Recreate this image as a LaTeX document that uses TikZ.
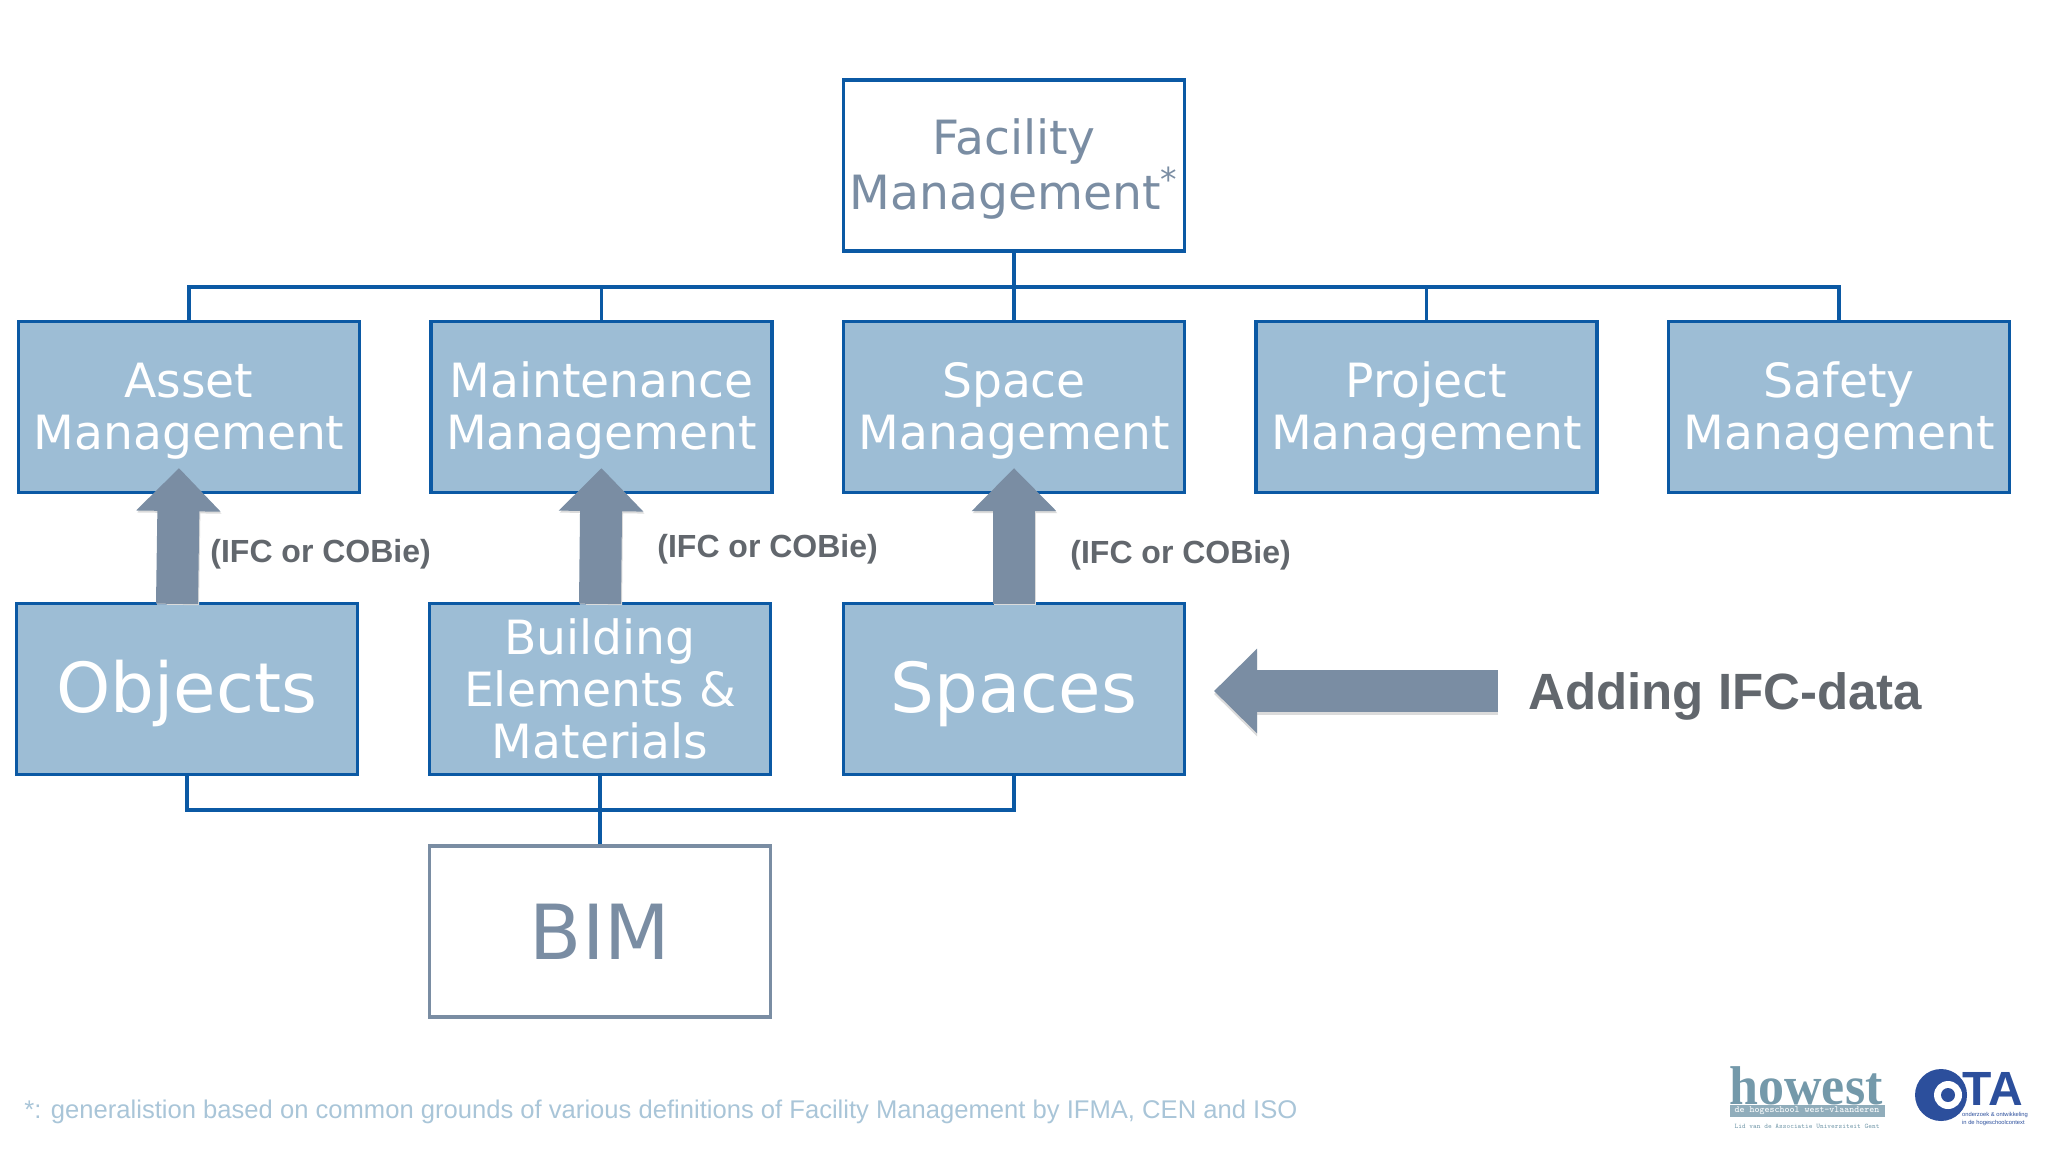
\documentclass[tikz,border=0pt]{standalone}
\usepackage{fontspec}
\setmainfont{DejaVu Sans}
\newfontfamily\arialfont{Liberation Sans}
\newfontfamily\slabfont{Liberation Serif}
\usetikzlibrary{arrows.meta}
\definecolor{boxblue}{HTML}{9DBDD5}
\definecolor{lineblue}{HTML}{0B59A4}
\definecolor{slate}{HTML}{7A8DA3}
\definecolor{labelgrey}{HTML}{62676D}
\definecolor{notecolor}{HTML}{A9C5D8}
\definecolor{howestblue}{HTML}{7499AA}
\definecolor{otablue}{HTML}{2C4F9C}
\newcommand{\lowtwo}{\rule{0pt}{21.5pt}}
\newcommand{\lowbig}{\rule{0pt}{31pt}}
\tikzset{
	filled/.style={draw=lineblue, fill=boxblue, text=white},
	blockarrow/.style={line width=21pt, slate, -{Triangle[length=21.5pt,width=41pt]}},
	arrowshadow/.style={line width=21pt, black!14, -{Triangle[length=21.5pt,width=41pt]}},
	ifclabel/.style={font=\arialfont\bfseries\fontsize{16}{20}\selectfont},
}
\begin{document}
\begin{tikzpicture}[x=0.5pt, y=-0.5pt]
		\useasboundingbox (0,0) rectangle (2048,1152);
		\begin{scope}[every node/.style={rectangle, line width=1.6pt, minimum width=170.5pt, minimum height=85.5pt, inner sep=0pt, align=center, font=\fontsize{23.6}{26}\selectfont}]
			\node[draw=lineblue, text=slate] (FM) at (1014,165.5) {\lowtwo Facility\\Management\textsuperscript{*}};
			
			\node[filled] (AM) at (189,407) {\lowtwo Asset\\Management};
			\node[filled] (MM) at (601.5,407) {\lowtwo Maintenance\\Management};
			\node[filled] (SM) at (1014,407) {\lowtwo Space\\Management};
			\node[filled] (PM) at (1426.5,407) {\lowtwo Project\\Management};
			\node[filled] (SF) at (1839,407) {\lowtwo Safety\\Management};
			
			\node[filled, font=\fontsize{34.5}{40}\selectfont] (O) at (187,689) {\lowbig Objects};
			\node[filled] (B) at (600,689) {Building\\Elements \&\\Materials};
			\node[filled, font=\fontsize{34.5}{40}\selectfont] (S) at (1014,689) {\lowbig Spaces};
			
			\node[draw=slate, text=slate, font=\fontsize{38}{40}\selectfont] (BIM) at (600,931.5) {BIM};
		\end{scope}
		
		\coordinate (T) at (1014,287);
		\coordinate (U) at (600,810);
		\coordinate (AF) at (1498,691);
		\coordinate (AT) at (1214,691);
	
		\begin{scope}[lineblue, line width=1.6pt]
			\draw (FM)--(SM);
			\draw (AM.north) |- (T);
			\draw (MM.north) |- (T);
			\draw (PM.north) |- (T);
			\draw (SF.north) |- (T);
			\draw (O.south) |- (U);
			\draw (S.south) |- (U);
			\draw (B)--(BIM);
		\end{scope}
		
		\begin{scope}
			\foreach \low/\high/\shift in {O/AM/-10, B/MM/0, S/SM/0} {
				\draw[arrowshadow] ([xshift=\shift*0.5pt+0.5pt,yshift=-1.5pt]\low.north) -- ([xshift=\shift*0.5pt+0.5pt,yshift=12pt]\high.south);
				\draw[blockarrow] ([xshift=\shift*0.5pt,yshift=-1pt]\low.north) -- ([xshift=\shift*0.5pt,yshift=13pt]\high.south);
			}
			\draw[arrowshadow] ([yshift=-1.5pt]AF) -- ([yshift=-1.5pt]AT);
			\draw[blockarrow] (AF)--(AT);
		\end{scope}
		
		\begin{scope}[every node/.style={text=labelgrey, anchor=west, inner sep=0pt}]
			\node[ifclabel] (L1) at (210,554) {(IFC or COBie)};
			\node[ifclabel] (L2) at (657,549) {(IFC or COBie)};
			\node[ifclabel] (L3) at (1070,555) {(IFC or COBie)};
			\node[font=\arialfont\bfseries\fontsize{25.5}{30}\selectfont] (L4) at (1528,696) {Adding IFC-data};
			\node[text=notecolor, font=\arialfont\fontsize{12.8}{16}\selectfont] (N) at (24,1112) {*: generalistion based on common grounds of various definitions of Facility Management by IFMA, CEN and ISO};
		\end{scope}
		
		%logos
		\node[anchor=south, inner sep=0pt, text=howestblue, font=\slabfont\bfseries\fontsize{26}{30}\selectfont] (H) at (1806,1105) {\scalebox{1}[1.05]{howest}};
		\node[fill=howestblue!80, minimum width=77.5pt, minimum height=6pt, inner sep=0pt, text=white, font=\ttfamily\fontsize{4.7}{5}\selectfont] (H2) at (1807,1111) {de hogeschool west-vlaanderen};
		\node[inner sep=0pt, text=howestblue, font=\ttfamily\fontsize{3.5}{4}\selectfont] (H3) at (1807,1126) {Lid van de Associatie Universiteit Gent};
		\fill[otablue] (1941,1095) circle (13pt);
		\fill[white] (1948,1095) circle (7pt);
		\fill[otablue] (1948,1095) circle (3.5pt);
		\node[inner sep=0pt, text=otablue, font=\arialfont\bfseries\fontsize{24}{26}\selectfont] (OT) at (1993,1089) {TA};
		\node[inner sep=0pt, text=otablue, align=left, font=\arialfont\fontsize{2.9}{4}\selectfont] (OS) at (1995,1119) {onderzoek \& ontwikkeling\\in de hogeschoolcontext};
		\end{tikzpicture}
\end{document}
